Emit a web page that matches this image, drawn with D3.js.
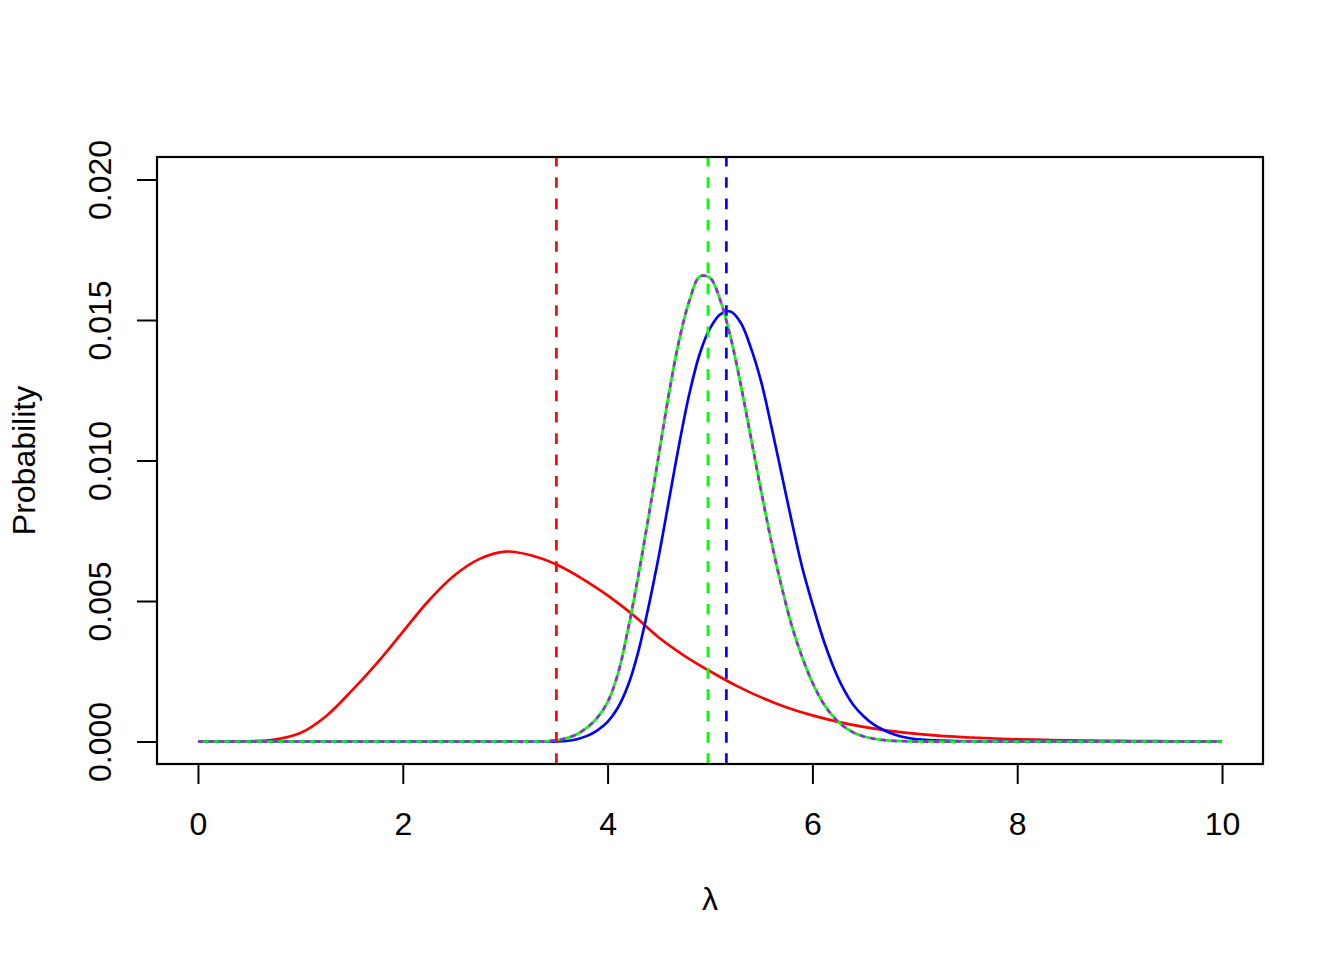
<!DOCTYPE html>
<html>
<head>
<meta charset="utf-8">
<script src="https://cdn.jsdelivr.net/npm/d3@7"></script>
<style>
  html, body { margin: 0; padding: 0; background: #fff; }
  svg { display: block; }
  text { font-family: "Liberation Sans", Arial, Helvetica, sans-serif; fill: #000; }
</style>
</head>
<body>
<svg id="chart" width="1344" height="960"></svg>
<script>
// ---------------- data ----------------
const xTicks = [0, 2, 4, 6, 8, 10];
const yTicks = [0, 0.005, 0.010, 0.015, 0.020];
const yTickLabels = ["0.000", "0.005", "0.010", "0.015", "0.020"];

// prior (red)
const priorLambda = [0, 0.25, 0.5, 0.75, 1.0, 1.25, 1.5, 1.75, 2.0, 2.25, 2.5, 2.75, 3.0, 3.25, 3.5, 3.75,
  4.0, 4.25, 4.5, 4.75, 5.0, 5.25, 5.5, 5.75, 6.0, 6.25, 6.5, 6.75, 7.0, 7.25, 7.5, 7.75,
  8.0, 8.25, 8.5, 8.75, 9.0, 9.25, 9.5, 9.75, 10];
const priorProb = [0, 0, 0.00001, 0.00007, 0.0003, 0.0009, 0.0018, 0.0028, 0.0039, 0.0050, 0.0059, 0.0065,
  0.00676, 0.00663, 0.0063, 0.0058, 0.0052, 0.0045, 0.0037, 0.00305, 0.0025, 0.0020, 0.00157, 0.00121,
  0.00093, 0.0007, 0.00052, 0.00038, 0.00028, 0.0002, 0.00015, 0.00011, 0.00008, 0.00006, 0.00004,
  0.00003, 0.00002, 0.000015, 0.00001, 0.000005, 0];

// posterior grid (green / purple and blue)
const postLambda = [0, 1, 2, 3, 3.3, 3.4, 3.5, 3.6, 3.7, 3.8, 3.9, 4.0, 4.1, 4.2, 4.3, 4.4, 4.5, 4.6, 4.7,
  4.8, 4.9, 5.0, 5.1, 5.2, 5.3, 5.4, 5.5, 5.6, 5.7, 5.8, 5.9, 6.0, 6.1, 6.2, 6.3, 6.4, 6.5, 6.6,
  6.7, 6.8, 6.9, 7.0, 7.5, 8, 9, 10];
// green solid
const postGreenProb = [0, 0, 0, 0, 0, 0.00001, 0.00005, 0.00012, 0.00026, 0.0005, 0.00085, 0.0014, 0.0024,
  0.0040, 0.0059, 0.0080, 0.0102, 0.0124, 0.0143, 0.0157, 0.01655, 0.0165, 0.0157, 0.0144, 0.0127,
  0.0108, 0.0089, 0.0071, 0.0055, 0.0041, 0.0030, 0.0021, 0.0014, 0.0009, 0.00055, 0.00032, 0.00018,
  0.0001, 0.00005, 0.00002, 0.00001, 0, 0, 0, 0, 0];
// purple dotted (coincides with the green curve)
const postPurpleProb = [0, 0, 0, 0, 0, 0.00001, 0.00005, 0.00012, 0.00026, 0.0005, 0.00085, 0.0014, 0.0024,
  0.0040, 0.0059, 0.0080, 0.0102, 0.0124, 0.0143, 0.0157, 0.01655, 0.0165, 0.0157, 0.0144, 0.0127,
  0.0108, 0.0089, 0.0071, 0.0055, 0.0041, 0.0030, 0.0021, 0.0014, 0.0009, 0.00055, 0.00032, 0.00018,
  0.0001, 0.00005, 0.00002, 0.00001, 0, 0, 0, 0, 0];
// blue solid
const postBlueProb = [0, 0, 0, 0, 0, 0, 0, 0.00002, 0.00008, 0.0002, 0.0004, 0.0007, 0.0012, 0.0020, 0.0032,
  0.0048, 0.0066, 0.0086, 0.0106, 0.0124, 0.0138, 0.0147, 0.0152, 0.0153, 0.0149, 0.0140, 0.0128,
  0.0112, 0.0095, 0.0078, 0.0062, 0.0049, 0.0037, 0.0027, 0.0019, 0.0013, 0.0009, 0.0006, 0.0004,
  0.00025, 0.00015, 0.00009, 0.00001, 0, 0, 0];

// vertical dashed reference lines (means): red, green, blue
const meanLambda = [3.5, 4.98, 5.16];
const meanColors = ["#ff0000", "#00ff00", "#0000ff"];

// ---------------- drawing ----------------
(function draw() {
  const svg = d3.select("#chart");
  svg.append("rect").attr("width", 1344).attr("height", 960).attr("fill", "#fff");

  const pLeft = 157, pRight = 1263, pTop = 157, pBottom = 764;
  const x = d3.scaleLinear().domain([-0.4, 10.4]).range([pLeft, pRight]);
  const y = d3.scaleLinear().domain([-0.0008, 0.0208]).range([pBottom, pTop]);

  const lw = 2.67;
  svg.append("defs").append("clipPath").attr("id", "plotclip")
    .append("rect").attr("x", pLeft).attr("y", pTop).attr("width", pRight - pLeft).attr("height", pBottom - pTop);

  const g = svg.append("g").attr("clip-path", "url(#plotclip)");
  const line = d3.line().x(d => x(d[0])).y(d => y(Math.max(0, d[1]))).curve(d3.curveCatmullRom.alpha(0.5));
  const zip = (a, b) => a.map((v, i) => [v, b[i]]);

  g.append("path").datum(zip(priorLambda, priorProb)).attr("d", line)
    .attr("fill", "none").attr("stroke", "#ff0000").attr("stroke-width", lw);
  g.append("path").datum(zip(postLambda, postBlueProb)).attr("d", line)
    .attr("fill", "none").attr("stroke", "#0000ff").attr("stroke-width", lw);
  g.append("path").datum(zip(postLambda, postGreenProb)).attr("d", line)
    .attr("fill", "none").attr("stroke", "#00ff00").attr("stroke-width", lw);
  g.append("path").datum(zip(postLambda, postPurpleProb)).attr("d", line)
    .attr("fill", "none").attr("stroke", "#a020f0").attr("stroke-width", lw)
    .attr("stroke-dasharray", "5.33,5.33");

  g.selectAll("line.mean").data(meanLambda).enter().append("line")
    .attr("class", "mean")
    .attr("x1", d => x(d)).attr("x2", d => x(d))
    .attr("y1", pBottom).attr("y2", pTop)
    .attr("stroke", (d, i) => meanColors[i]).attr("stroke-width", lw)
    .attr("stroke-dasharray", "10.67,10.67");

  // box
  svg.append("rect").attr("x", pLeft).attr("y", pTop).attr("width", pRight - pLeft).attr("height", pBottom - pTop)
    .attr("fill", "none").attr("stroke", "#000").attr("stroke-width", 2.2);

  // x axis
  const xAxis = d3.axisBottom(x).tickValues(xTicks).tickSize(20).tickSizeOuter(0).tickFormat(d3.format("d"));
  const gx = svg.append("g").attr("transform", `translate(0,${pBottom})`).call(xAxis);
  gx.select(".domain").remove();
  gx.selectAll(".tick line").attr("stroke", "#000").attr("stroke-width", 2);
  gx.selectAll(".tick text").attr("y", 0).attr("dy", null)
    .attr("transform", "translate(0,71)")
    .attr("font-size", 32).attr("font-family", "Liberation Sans, Arial, sans-serif")
    .attr("text-anchor", "middle").attr("fill", "#000");

  // y axis
  const yAxis = d3.axisLeft(y).tickValues(yTicks).tickSize(20).tickSizeOuter(0)
    .tickFormat((d, i) => yTickLabels[i]);
  const gy = svg.append("g").attr("transform", `translate(${pLeft},0)`).call(yAxis);
  gy.select(".domain").remove();
  gy.selectAll(".tick line").attr("stroke", "#000").attr("stroke-width", 2);
  gy.selectAll(".tick text").attr("x", 0).attr("dy", null)
    .attr("transform", "translate(-46,0) rotate(-90)")
    .attr("font-size", 32).attr("font-family", "Liberation Sans, Arial, sans-serif")
    .attr("text-anchor", "middle").attr("fill", "#000");

  // axis titles
  svg.append("text").attr("x", (pLeft + pRight) / 2).attr("y", 910)
    .attr("text-anchor", "middle").attr("font-size", 32).text("λ");
  svg.append("text").attr("transform", `translate(35,${(pTop + pBottom) / 2}) rotate(-90)`)
    .attr("text-anchor", "middle").attr("font-size", 32).text("Probability");
})();
</script>
</body>
</html>
